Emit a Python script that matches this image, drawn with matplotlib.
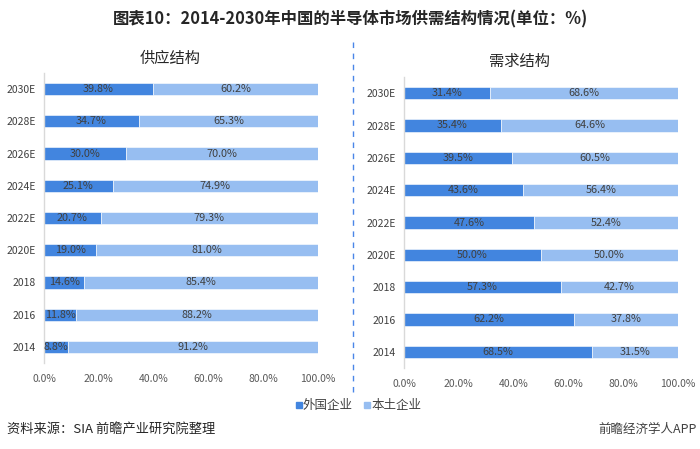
import matplotlib
matplotlib.use("Agg")
import matplotlib.pyplot as plt
from matplotlib.patches import Rectangle

plt.rcParams['font.family'] = ['Noto Sans CJK SC', 'DejaVu Sans']

years = ["2014", "2016", "2018", "2020E", "2022E", "2024E", "2026E", "2028E", "2030E"]
supply_foreign = [8.8, 11.8, 14.6, 19.0, 20.7, 25.1, 30.0, 34.7, 39.8]
supply_local = [91.2, 88.2, 85.4, 81.0, 79.3, 74.9, 70.0, 65.3, 60.2]
demand_foreign = [68.5, 62.2, 57.3, 50.0, 47.6, 43.6, 39.5, 35.4, 31.4]
demand_local = [31.5, 37.8, 42.7, 50.0, 52.4, 56.4, 60.5, 64.6, 68.6]
xticks = [0, 20, 40, 60, 80, 100]
xticklabels = ["0.0%", "20.0%", "40.0%", "60.0%", "80.0%", "100.0%"]
series_names = ["外国企业", "本土企业"]
panel_titles = ["供应结构", "需求结构"]
title = "图表10：2014-2030年中国的半导体市场供需结构情况(单位：%)"
source = "资料来源：SIA 前瞻产业研究院整理"
brand = "前瞻经济学人APP"

DARK = "#4285DF"
LIGHT = "#97BEF1"
TXT = "#404040"

W, H = 700, 449
fig = plt.figure(figsize=(7, 4.49), dpi=100)

def box(x0, y_top, x1, y_bot):
    return [x0 / W, 1 - y_bot / H, (x1 - x0) / W, (y_bot - y_top) / H]

ax1 = fig.add_axes(box(44, 73, 318, 363))
ax2 = fig.add_axes(box(404, 77, 678, 368))

def draw(ax, fo, lo):
    y = range(len(years))
    ax.barh(y, fo, height=0.38, color=DARK, edgecolor="white", linewidth=0.4)
    ax.barh(y, lo, left=fo, height=0.38, color=LIGHT, edgecolor="white", linewidth=0.4)
    for i in y:
        ax.text(fo[i] / 2, i, f"{fo[i]:.1f}%", ha="center", va="center",
                fontsize=7.8, color=TXT)
        ax.text(fo[i] + lo[i] / 2, i, f"{lo[i]:.1f}%", ha="center", va="center",
                fontsize=7.8, color=TXT)
    ax.set_xlim(0, 100)
    ax.set_ylim(-0.5, len(years) - 0.5)
    ax.set_yticks(list(y))
    ax.set_yticklabels(years, fontsize=7.5, color=TXT)
    ax.set_xticks(xticks)
    ax.set_xticklabels(xticklabels, fontsize=7.5, color="#595959")
    ax.tick_params(length=0, pad=8)
    ax.tick_params(axis="y", pad=6)
    for s in ["top", "right", "bottom"]:
        ax.spines[s].set_visible(False)
    ax.spines["left"].set_color("#D9D9D9")
    ax.spines["left"].set_linewidth(1.0)
    ax.set_facecolor("none")

draw(ax1, supply_foreign, supply_local)
draw(ax2, demand_foreign, demand_local)

fig.text(350 / W, 1 - 19 / H, title, ha="center", va="center", fontsize=11.8,
         fontweight="bold", color="#262626")
fig.text(170 / W, 1 - 58 / H, panel_titles[0], ha="center", va="center", fontsize=11, color="#262626")
fig.text(520 / W, 1 - 61 / H, panel_titles[1], ha="center", va="center", fontsize=11, color="#262626")

fig.add_artist(plt.Line2D([353 / W, 353 / W], [1 - 42 / H, 1 - 392 / H],
                          transform=fig.transFigure, color="#4A86E8",
                          linestyle=(0, (4, 4)), linewidth=1.0))

# legend
lx = 296
fig.add_artist(Rectangle((lx / W, 1 - 408 / H), 6 / W, 6 / H, transform=fig.transFigure, color=DARK))
fig.text((lx + 7) / W, 1 - 405 / H, series_names[0], ha="left", va="center", fontsize=9, color=TXT)
fig.add_artist(Rectangle(((lx + 68) / W, 1 - 408 / H), 6 / W, 6 / H, transform=fig.transFigure, color=LIGHT))
fig.text((lx + 75) / W, 1 - 405 / H, series_names[1], ha="left", va="center", fontsize=9, color=TXT)

fig.text(7 / W, 1 - 429 / H, source, ha="left", va="center", fontsize=9.5, color="#262626")
fig.text(697 / W, 1 - 429 / H, brand, ha="right", va="center", fontsize=9, color="#404040")

fig.savefig("out.png", dpi=100, facecolor="white")
